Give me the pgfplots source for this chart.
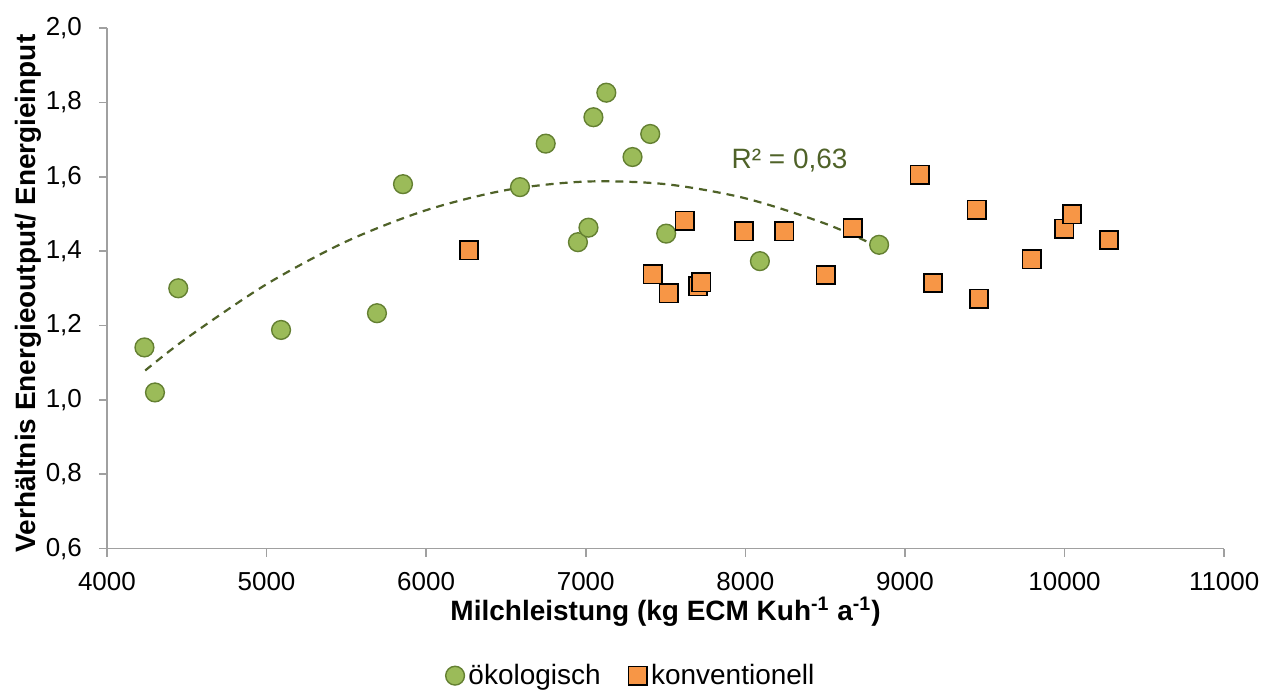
\documentclass[border=0pt]{standalone}
\usepackage{fontspec}
\setmainfont{Liberation Sans}
\usepackage{pgfplots}
\pgfplotsset{compat=1.18}
\definecolor{okogreen}{RGB}{155,187,89}
\definecolor{okoedge}{RGB}{100,128,50}
\definecolor{konvorange}{RGB}{247,150,70}
\definecolor{trendgreen}{RGB}{79,98,40}
\definecolor{axisgray}{RGB}{160,160,160}
\begin{document}
\begin{tikzpicture}
\begin{axis}[
  scale only axis,
  width=559pt, height=260.5pt,
  xmin=4000, xmax=11000, ymin=0.6, ymax=2.0,
  xtick={4000,5000,...,11000},
  ytick={0.6,0.8,...,2.0},
  scaled x ticks=false,
  axis lines=left,
  axis line style={draw=axisgray, line width=0.8pt, -},
  tick style={draw=axisgray, line width=0.8pt},
  tick align=outside,
  major tick length=4pt,
  /pgf/number format/assume math mode=true,
  xticklabel style={/pgf/number format/1000 sep={}, yshift=-4.5pt},
  yticklabel style={/pgf/number format/.cd, use comma, fixed, fixed zerofill, precision=1,
    /tikz/.cd, xshift=-5pt},
  ticklabel style={font=\fontsize{13}{15}\selectfont},
  xlabel={\textbf{Milchleistung (kg ECM Kuh\textsuperscript{-1} a\textsuperscript{-1})}},
  ylabel={\textbf{Verhältnis Energieoutput/ Energieinput}},
  label style={font=\fontsize{14}{16}\selectfont},
  xlabel style={at={(axis description cs:0.5,-0.121)}, anchor=center},
  ylabel style={at={(axis description cs:-0.0707,0.49)}, anchor=center},
  legend columns=2,
  legend style={draw=none, fill=none, font=\fontsize{14}{16}\selectfont,
    at={(axis description cs:0.47,-0.244)}, anchor=center,
    /tikz/every even column/.append style={column sep=12pt}},
  legend cell align=left,
  clip=false,
]
% Trendlinie (polynomisch)
\addplot[trendgreen, line width=1.1pt, dashed, dash pattern=on 4pt off 3pt, smooth, forget plot]
  coordinates {(4240,1.079)(4500,1.166)(5000,1.311)(5500,1.426)(6000,1.510)
               (6500,1.564)(7000,1.587)(7500,1.580)(8000,1.542)(8500,1.474)(8840,1.410)};
\addplot[only marks, mark=*, mark size=4.7pt,
  mark options={fill=okogreen, draw=okoedge, line width=0.7pt}]
  coordinates {(4235,1.141)(4301,1.020)(4447,1.300)(5091,1.188)(5692,1.233)
               (5855,1.580)(6588,1.572)(6749,1.689)(6951,1.424)(7017,1.463)
               (7048,1.760)(7129,1.826)(7293,1.653)(7404,1.715)(7504,1.447)
               (8091,1.373)(8838,1.417)};
\addlegendentry{ökologisch}
\addplot[only marks, mark=square*, mark size=4.6pt,
  mark options={fill=konvorange, draw=black, line width=0.8pt}]
  coordinates {(6269,1.402)(7419,1.338)(7520,1.287)(7620,1.482)(7703,1.305)
               (7724,1.316)(7992,1.453)(8243,1.453)(8504,1.336)(8672,1.462)
               (9092,1.605)(9175,1.314)(9449,1.511)(9464,1.272)(9795,1.378)
               (9999,1.460)(10046,1.499)(10278,1.430)};
\addlegendentry{konventionell}
\node[trendgreen, font=\fontsize{14}{16}\selectfont] at (axis cs:8277,1.643) {R² = 0,63};
\end{axis}
\path (current axis.south west) ++(-53.5pt,-70pt) rectangle ++(633pt,344.5pt);
\end{tikzpicture}
\end{document}
